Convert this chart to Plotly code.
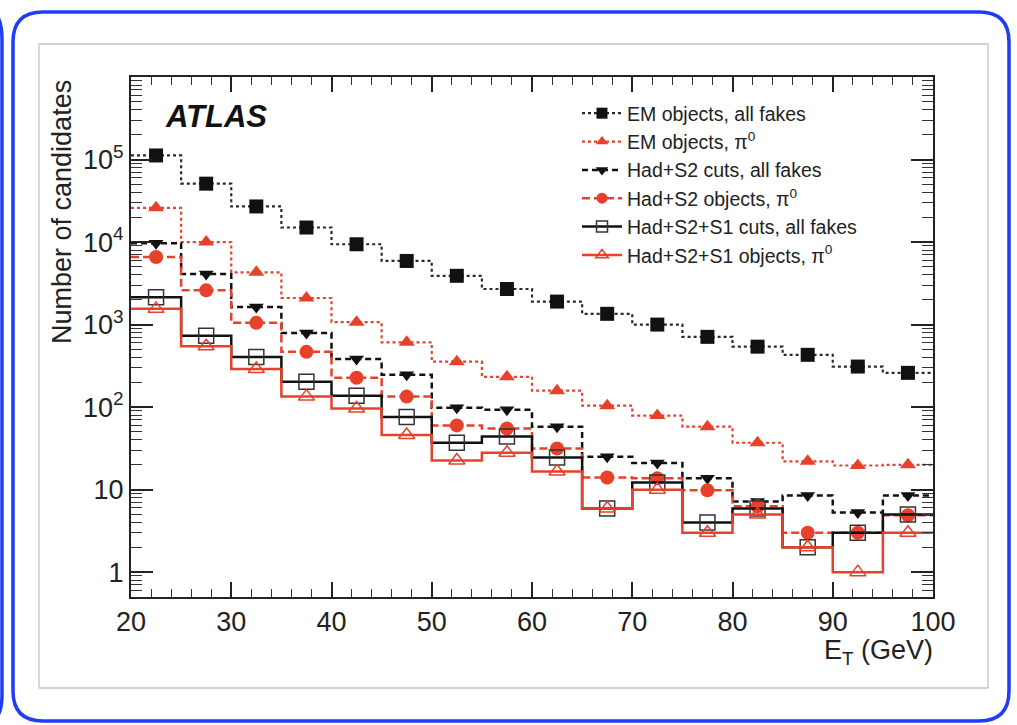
import plotly.graph_objects as go
import numpy as np

# ---------------- data ----------------
bin_edges = [20, 25, 30, 35, 40, 45, 50, 55, 60, 65, 70, 75, 80, 85, 90, 95, 100]
bin_centers = [22.5, 27.5, 32.5, 37.5, 42.5, 47.5, 52.5, 57.5, 62.5, 67.5,
               72.5, 77.5, 82.5, 87.5, 92.5, 97.5]

em_all_fakes = [112000, 51000, 27000, 15000, 9400, 5900, 3900, 2700, 1900, 1350,
                1000, 710, 540, 430, 310, 260]
em_pi0 = [26000, 10000, 4300, 2100, 1070, 610, 355, 233, 158, 104,
          79, 58, 37, 22, 19.6, 20]
had_s2_all_fakes = [9700, 4100, 1630, 790, 383, 246, 98, 93, 58, 25,
                    21, 13.7, 7.2, 8.5, 5.3, 8.5]
had_s2_pi0 = [6600, 2600, 1050, 467, 227, 134, 60, 55, 31.5, 14,
              13.7, 9.8, 6.3, 3.0, 3.0, 4.9]
had_s2s1_all_fakes = [2150, 730, 405, 203, 137, 76, 37, 44, 24.5, 5.9,
                      12.2, 4.0, 5.9, 2.0, 3.0, 5.0]
had_s2s1_pi0 = [1550, 545, 290, 134, 96, 46, 22.5, 28, 16.6, 5.9,
                10, 3.0, 5.0, 2.0, 1.0, 3.0]

series_names = [
    "EM objects, all fakes",
    "EM objects, π<sup>0</sup>",
    "Had+S2 cuts, all fakes",
    "Had+S2 objects, π<sup>0</sup>",
    "Had+S2+S1 cuts, all fakes",
    "Had+S2+S1 objects, π<sup>0</sup>",
]

x_ticks = [20, 30, 40, 50, 60, 70, 80, 90, 100]
y_tickvals = [1, 10, 100, 1000, 10000, 100000]
y_ticktext = ["1", "10", "10<sup>2</sup>", "10<sup>3</sup>", "10<sup>4</sup>", "10<sup>5</sup>"]

# ---------------- styles ----------------
RED = "#e8402a"
BLK = "#111111"
styles = [
    dict(color="#2a2a2a", dash="dot", width=2.2, symbol="square", msize=14, mline=0, mcolor=BLK),
    dict(color=RED, dash="dot", width=2.2, symbol="triangle-up", msize=14, mline=0, mcolor=RED),
    dict(color=BLK, dash="6px,4px", width=2.5, symbol="triangle-down", msize=13, mline=0, mcolor=BLK),
    dict(color=RED, dash="8px,4px", width=2.5, symbol="circle", msize=14, mline=0, mcolor=RED),
    dict(color=BLK, dash="solid", width=2.5, symbol="square-open", msize=15, mline=1.5, mcolor="#333333"),
    dict(color=RED, dash="solid", width=2.5, symbol="triangle-up-open", msize=14, mline=1.5, mcolor=RED),
]
all_series = [em_all_fakes, em_pi0, had_s2_all_fakes, had_s2_pi0,
              had_s2s1_all_fakes, had_s2s1_pi0]

fig = go.Figure()

for vals, name, st in zip(all_series, series_names, styles):
    step_y = list(vals) + [vals[-1]]
    fig.add_trace(go.Scatter(
        x=bin_edges, y=step_y, mode="lines", line_shape="hv",
        line=dict(color=st["color"], dash=st["dash"], width=st["width"]),
        showlegend=False, hoverinfo="skip"))
    fig.add_trace(go.Scatter(
        x=bin_centers, y=vals, mode="markers",
        marker=dict(symbol=st["symbol"], size=st["msize"], color=st["mcolor"],
                    line=dict(width=st["mline"], color=st["mcolor"])),
        showlegend=False, name=name))

# legend entries
for name, st in zip(series_names, styles):
    fig.add_trace(go.Scatter(
        x=[None], y=[None], mode="lines+markers", name=name,
        line=dict(color=st["color"], dash=st["dash"], width=st["width"]),
        marker=dict(symbol=st["symbol"], size=11, color=st["mcolor"],
                    line=dict(width=st["mline"], color=st["mcolor"]))))

# ---------------- layout ----------------
W, H = 1017, 725
L, R, T, B = 131, 84, 77, 128
PW, PH = W - L - R, H - T - B


def px_x(p):
    return (p - L) / PW


def px_y(p):
    return (H - B - p) / PH


FONT = "Liberation Sans, Arial, Helvetica, sans-serif"

# outer blue rounded card
bl, br, bt, bb, rr = 13, 1009, 12, 721, 30
path = (f"M {px_x(bl+rr)},{px_y(bt)} L {px_x(br-rr)},{px_y(bt)} "
        f"Q {px_x(br)},{px_y(bt)} {px_x(br)},{px_y(bt+rr)} "
        f"L {px_x(br)},{px_y(bb-rr)} Q {px_x(br)},{px_y(bb)} {px_x(br-rr)},{px_y(bb)} "
        f"L {px_x(bl+rr)},{px_y(bb)} Q {px_x(bl)},{px_y(bb)} {px_x(bl)},{px_y(bb-rr)} "
        f"L {px_x(bl)},{px_y(bt+rr)} Q {px_x(bl)},{px_y(bt)} {px_x(bl+rr)},{px_y(bt)} Z")
left_piece = (f"M {px_x(-12)},{px_y(10)} Q {px_x(2)},{px_y(12)} {px_x(2)},{px_y(40)} "
              f"L {px_x(2)},{px_y(695)} Q {px_x(2)},{px_y(720)} {px_x(-12)},{px_y(722)}")

shapes = [
    dict(type="path", xref="paper", yref="paper", path=path,
         line=dict(color="#1f3df5", width=3.5), fillcolor="rgba(0,0,0,0)", layer="below"),
    dict(type="path", xref="paper", yref="paper", path=left_piece,
         line=dict(color="#1f3df5", width=3.5), layer="below"),
    dict(type="rect", xref="paper", yref="paper",
         x0=px_x(39), x1=px_x(988), y0=px_y(44), y1=px_y(688),
         line=dict(color="#c4c4c4", width=1.3), fillcolor="rgba(0,0,0,0)", layer="below"),
]

annotations = [
    dict(text="<b><i>ATLAS</i></b>", xref="paper", yref="paper",
         x=px_x(163), y=px_y(117), xanchor="left", yanchor="middle",
         showarrow=False, font=dict(family=FONT, size=31, color="#111")),
    dict(text="Number of candidates", xref="paper", yref="paper",
         x=px_x(62), y=px_y(212), xanchor="center", yanchor="middle",
         textangle=-90, showarrow=False, font=dict(family=FONT, size=27, color="#222")),
    dict(text="E<sub>T</sub> (GeV)", xref="paper", yref="paper",
         x=px_x(935), y=px_y(652), xanchor="right", yanchor="middle",
         showarrow=False, font=dict(family=FONT, size=27, color="#222")),
]

fig.update_layout(
    width=W, height=H,
    margin=dict(l=L, r=R, t=T, b=B, pad=0),
    paper_bgcolor="white", plot_bgcolor="white",
    font=dict(family=FONT, color="#222"),
    shapes=shapes, annotations=annotations,
    legend=dict(x=px_x(577), y=px_y(94), xanchor="left", yanchor="top",
                bgcolor="rgba(0,0,0,0)", font=dict(family=FONT, size=19.5, color="#222"),
                tracegroupgap=0, itemwidth=40, traceorder="normal"),
)

fig.update_xaxes(
    range=[20, 100], tickvals=x_ticks, ticks="inside", ticklen=15, tickwidth=1.5,
    tickcolor="#222", showline=True, linecolor="#222", linewidth=2, mirror="ticks",
    showgrid=False, zeroline=False, tickfont=dict(family=FONT, size=27, color="#222"),
    minor=dict(ticks="inside", ticklen=8, dtick=2, tickwidth=1.2, tickcolor="#333", showgrid=False),
)
fig.update_yaxes(
    type="log", range=[np.log10(0.5), 6], tickmode="array", tickvals=y_tickvals,
    ticktext=y_ticktext, ticks="inside", ticklen=22, tickwidth=1.5, tickcolor="#222",
    showline=True, linecolor="#222", linewidth=2, mirror="ticks", showgrid=False,
    zeroline=False, tickfont=dict(family=FONT, size=27, color="#222"),
    minor=dict(ticks="inside", ticklen=11, dtick="D1", tickwidth=1.2, tickcolor="#333", showgrid=False),
)

fig.write_html("out.html")
